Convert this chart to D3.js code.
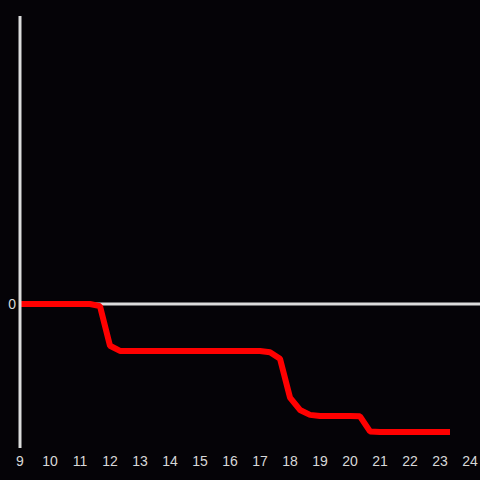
<!DOCTYPE html>
<html>
<head>
<meta charset="utf-8">
<script src="https://cdn.jsdelivr.net/npm/d3@7"></script>
<style>
  html, body { margin: 0; padding: 0; background: #050307; }
  svg { display: block; }
</style>
</head>
<body>
<div id="chart"></div>
<script>
// hours of the day (samples every 20 minutes)
const hours = [9, 9.333, 9.667, 10, 10.333, 10.667, 11, 11.333, 11.667, 12, 12.333, 12.667,
  13, 13.333, 13.667, 14, 14.333, 14.667, 15, 15.333, 15.667, 16, 16.333, 16.667,
  17, 17.333, 17.667, 18, 18.333, 18.667, 19, 19.333, 19.667, 20, 20.333, 20.667,
  21, 21.333, 21.667, 22, 22.333, 22.667, 23, 23.333];
// values
const values = [0, 0, 0, 0, 0, 0, 0, 0, -1.5, -29, -32.6, -32.6,
  -32.6, -32.6, -32.6, -32.6, -32.6, -32.6, -32.6, -32.6, -32.6, -32.6, -32.6, -32.6,
  -32.6, -33.5, -38, -65, -73.6, -77, -77.8, -77.8, -77.8, -77.8, -78, -88.5,
  -88.9, -88.9, -88.9, -88.9, -88.9, -88.9, -88.9, -88.9];
const xTicks = d3.range(9, 25);
const yTicks = [0];

const width = 480, height = 480;

// Build the chart
function renderChart() {
    const svg = d3.select('#chart')
        .append('svg')
        .attr('width', width)
        .attr('height', height);

    svg.append('rect')
        .attr('width', width)
        .attr('height', height)
        .attr('fill', '#050307');

    const x = d3.scaleLinear().domain([9, 24]).range([20, 470]);
    const y = d3.scaleLinear().domain([-100, 200]).range([448, 16]);

    // zero line
    svg.append('line')
        .attr('x1', x(9)).attr('x2', width)
        .attr('y1', y(0)).attr('y2', y(0))
        .attr('stroke', '#dcdcdc')
        .attr('stroke-width', 3);

    const line = d3.line()
        .x((d, i) => x(hours[i]))
        .y(d => y(d));

    svg.append('path')
        .datum(values)
        .attr('d', line)
        .attr('fill', 'none')
        .attr('stroke', '#ff0000')
        .attr('stroke-width', 6)
        .attr('stroke-linejoin', 'bevel');

    // vertical axis line (drawn over the series)
    svg.append('line')
        .attr('x1', x(9)).attr('x2', x(9))
        .attr('y1', y(200)).attr('y2', y(-100))
        .attr('stroke', '#dcdcdc')
        .attr('stroke-width', 3);

    // x tick labels
    svg.selectAll('.xlab')
        .data(xTicks)
        .enter()
        .append('text')
        .attr('class', 'xlab')
        .attr('x', d => x(d))
        .attr('y', 466)
        .attr('text-anchor', 'middle')
        .attr('fill', '#d8d8d8')
        .attr('font-family', 'Liberation Sans, Arial, sans-serif')
        .attr('font-size', 14)
        .text(d => d);

    // y tick labels
    svg.selectAll('.ylab')
        .data(yTicks)
        .enter()
        .append('text')
        .attr('class', 'ylab')
        .attr('x', 16)
        .attr('y', d => y(d))
        .attr('dy', '0.36em')
        .attr('text-anchor', 'end')
        .attr('fill', '#d8d8d8')
        .attr('font-family', 'Liberation Sans, Arial, sans-serif')
        .attr('font-size', 14)
        .text(d => d);
}

document.addEventListener('DOMContentLoaded', function () {
    renderChart();
});
</script>
</body>
</html>
